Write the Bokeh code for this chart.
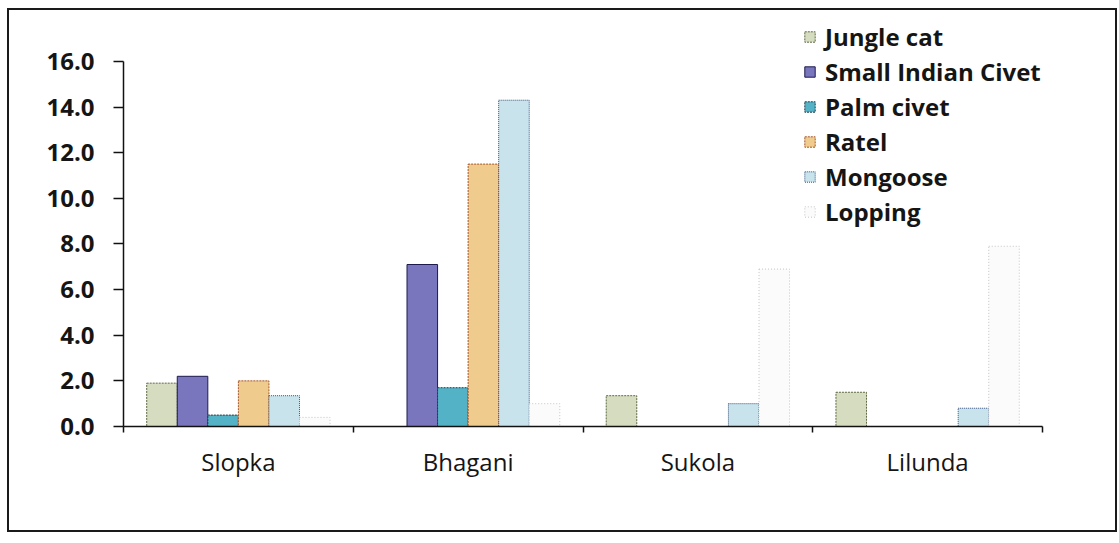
from bokeh.plotting import figure
from bokeh.models import (ColumnDataSource, Range1d, LinearAxis, FixedTicker,
                          Legend, LegendItem, NumeralTickFormatter)
from bokeh.transform import dodge
from bokeh.embed import file_html
from bokeh.resources import INLINE

# Sites and mean encounter values per species
sites = ["Slopka", "Bhagani", "Sukola", "Lilunda"]
jungle_cat = [1.9, 0.0, 1.35, 1.5]
small_indian_civet = [2.2, 7.1, 0.0, 0.0]
palm_civet = [0.5, 1.7, 0.0, 0.0]
ratel = [2.0, 11.5, 0.0, 0.0]
mongoose = [1.35, 14.3, 1.0, 0.8]
lopping = [0.4, 1.0, 6.9, 7.9]

y_ticks = [0, 2, 4, 6, 8, 10, 12, 14, 16]

series = [
    ("Jungle cat", jungle_cat, "#d6dcbf", "#5e6a45", "2 1"),
    ("Small Indian Civet", small_indian_civet, "#7a76bd", "#1c1a4e", "solid"),
    ("Palm civet", palm_civet, "#54b2c6", "#1d3c4c", "2 1"),
    ("Ratel", ratel, "#efcb8d", "#a4572a", "2 1"),
    ("Mongoose", mongoose, "#c9e3ec", "#34507a", "1 1"),
    ("Lopping", lopping, "#fbfbfb", "#c4c4c4", "1 2"),
]

# each site occupies one unit on the x scale, centred at i + 0.5
centers = [i + 0.5 for i in range(len(sites))]
edges = list(range(len(sites) + 1))
data = {"site": sites, "center": centers}
keys = []
for i, (name, vals, *_rest) in enumerate(series):
    k = f"s{i}"
    keys.append(k)
    data[k] = vals
source = ColumnDataSource(data)

FONT = "Open Sans"

# a little head-room above 16 leaves space for the legend's first row
p = figure(
    x_range=Range1d(0, len(sites)), y_range=Range1d(0, 17.75),
    width=1110, height=524, output_backend="svg", toolbar_location=None,
    x_axis_location=None, y_axis_location=None,
    min_border_left=114, min_border_right=77, min_border_top=11,
    min_border_bottom=108,
)
p.margin = (8, 0, 0, 7)
p.styles = {"border": "2px solid #1a1a1a", "box-sizing": "border-box"}
p.background_fill_color = "white"
p.border_fill_color = "white"
p.outline_line_color = None
p.xgrid.visible = False
p.ygrid.visible = False

bar_w = 0.133
offsets = [(-2.5 + i) * bar_w for i in range(6)]
items = []
for i, (name, vals, fill, line, dash) in enumerate(series):
    r = p.vbar(x=dodge("center", offsets[i]), top=keys[i],
               width=bar_w, source=source, fill_color=fill,
               line_color=line, line_width=1, line_dash=dash)
    items.append(LegendItem(label=name, renderers=[r]))

# y axis, drawn only from 0 to 16
yaxis = LinearAxis(ticker=FixedTicker(ticks=y_ticks),
                   formatter=NumeralTickFormatter(format="0.0"),
                   bounds=(0, 16))
yaxis.axis_line_color = "#111111"
yaxis.axis_line_width = 1.5
yaxis.major_tick_line_color = "#111111"
yaxis.major_tick_line_width = 1.5
yaxis.major_tick_out = 10
yaxis.major_tick_in = 0
yaxis.minor_tick_line_color = None
yaxis.major_label_standoff = 19
yaxis.major_label_text_font = FONT
yaxis.major_label_text_font_size = "24px"
yaxis.major_label_text_font_style = "bold"
yaxis.major_label_text_color = "#151515"
p.add_layout(yaxis, "left")

# x axis: site names at group centres, tick marks at group boundaries
xaxis = LinearAxis(ticker=FixedTicker(ticks=centers, minor_ticks=edges),
                   major_label_overrides={c: s for c, s in zip(centers, sites)})
xaxis.axis_line_color = "#111111"
xaxis.axis_line_width = 1.5
xaxis.major_tick_line_color = None
xaxis.major_tick_out = 0
xaxis.major_tick_in = 0
xaxis.minor_tick_line_color = "#111111"
xaxis.minor_tick_line_width = 1.5
xaxis.minor_tick_out = 6
xaxis.minor_tick_in = 0
xaxis.major_label_standoff = 12
xaxis.major_label_text_font = FONT
xaxis.major_label_text_font_size = "24px"
xaxis.major_label_text_color = "#151515"
p.add_layout(xaxis, "below")

legend = Legend(items=items, location=(680, 197), padding=0, margin=0,
                spacing=0, label_height=35, glyph_height=13, glyph_width=13,
                label_standoff=9, label_text_font=FONT,
                label_text_font_size="24px", label_text_font_style="bold",
                label_text_color="#151515",
                border_line_color=None, background_fill_alpha=0)
p.add_layout(legend)

open("out.html", "w").write(file_html(p, INLINE))
